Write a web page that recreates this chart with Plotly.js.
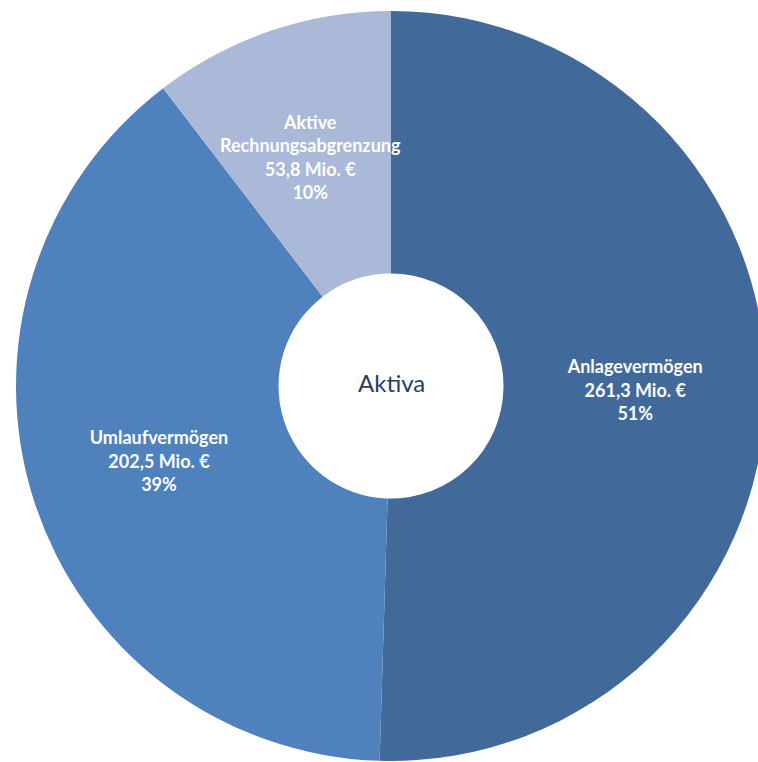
<!DOCTYPE html>
<html><head><meta charset="utf-8">
<script src="https://cdn.plot.ly/plotly-3.0.1.min.js"></script>
<style>html,body{margin:0;padding:0;overflow:hidden;background:#fff;}#chart{width:782px;height:772px;}</style>
</head><body><div id="chart"></div>
<script>
const categories = ["Anlagevermögen", "Umlaufvermögen", "Aktive<br>Rechnungsabgrenzung"];
const values = [261.3, 202.5, 53.8];
const valueLabels = ["261,3 Mio. €", "202,5 Mio. €", "53,8 Mio. €"];
const percentLabels = ["51%", "39%", "10%"];
const colors = ["#416A9B", "#4F81BD", "#A9B9D7"];

const labelFont = {family: 'Lato, sans-serif', size: 18, color: '#ffffff'};
const fullLabel = i => '<b>' + categories[i] + '<br>' + valueLabels[i] + '<br>' + percentLabels[i] + '</b>';
// the narrow slice's label is drawn as an annotation so it keeps full size
const templates = categories.map((c, i) => i === 2 ? ' ' : '<b>%{label}<br>%{customdata}<br>%{text}</b>');

Plotly.newPlot('chart', [{
  type: 'pie',
  labels: categories,
  values: values,
  customdata: valueLabels,
  text: percentLabels,
  texttemplate: templates,
  textposition: 'inside',
  insidetextorientation: 'horizontal',
  textfont: labelFont,
  hole: 0.3,
  sort: false,
  direction: 'clockwise',
  rotation: 0,
  marker: {colors: colors, line: {width: 0}},
  hoverinfo: 'none'
}], {
  width: 782, height: 772,
  margin: {l: 16, r: 16, t: 11, b: 11},
  showlegend: false,
  paper_bgcolor: '#ffffff',
  annotations: [{
    text: 'Aktiva', x: 0.5, y: 0.5, xref: 'paper', yref: 'paper', showarrow: false, yshift: 4,
    xanchor: 'center', yanchor: 'middle',
    font: {family: 'Lato, sans-serif', size: 24, color: '#243F60'}
  }, {
    text: fullLabel(2), x: 0.393, y: 0.805, xref: 'paper', yref: 'paper', showarrow: false,
    xanchor: 'center', yanchor: 'middle',
    font: labelFont
  }]
}, {staticPlot: true});
</script></body></html>
